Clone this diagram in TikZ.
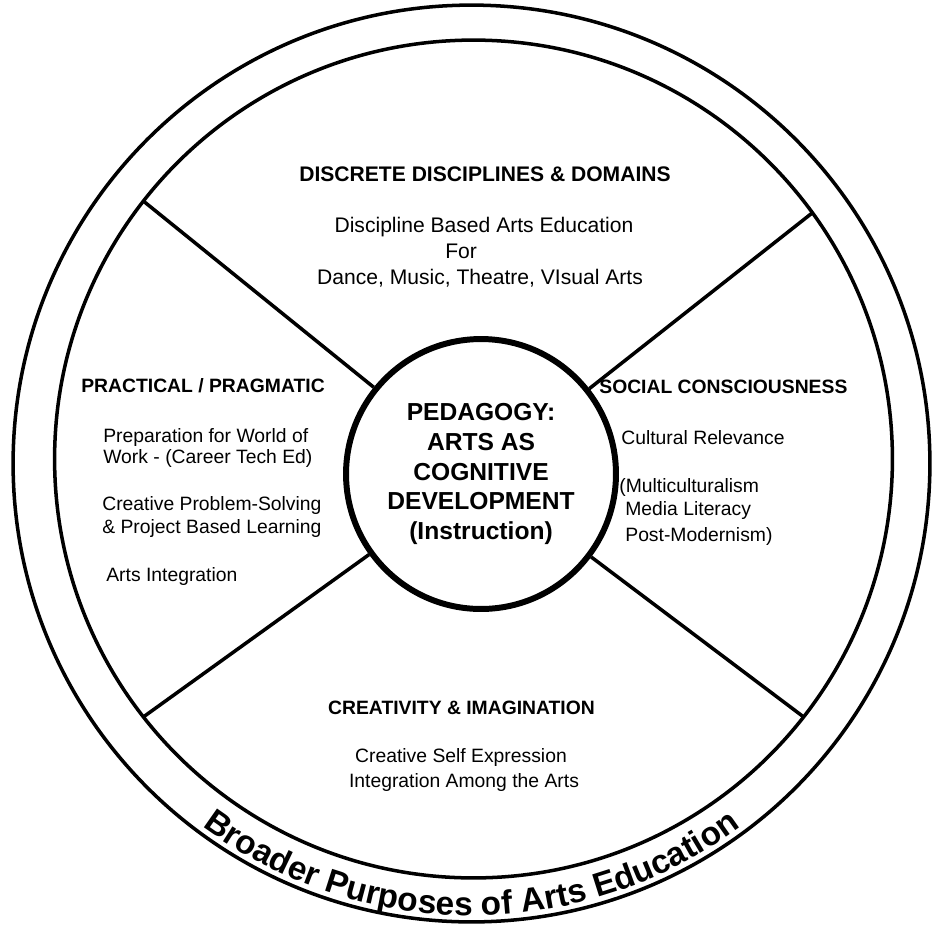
\documentclass[tikz,border=0pt]{standalone}
\usepackage{fontspec}
\setmainfont{Liberation Sans}
\usetikzlibrary{decorations.text}

\begin{document}
\begin{tikzpicture}[x=0.02cm, y=0.02cm,
  ringline/.style={draw, circle, line width=2pt, outer sep=0pt, inner sep=0pt},
  spoke/.style={line width=2pt},
  head/.style={font=\bfseries\fontsize{11}{13}\selectfont, inner sep=0pt},
  bighead/.style={font=\bfseries\fontsize{12}{14}\selectfont, inner sep=0pt},
  body/.style={font=\fontsize{11}{13}\selectfont, inner sep=0pt},
  bigbody/.style={font=\fontsize{12}{14}\selectfont, inner sep=0pt},
]
\useasboundingbox (0,0) rectangle (932,-924);

% rings
\node[ringline, minimum size=18.34cm] (outer) at (471.5,-463.5) {};
\node[ringline, minimum size=16.76cm] (ring) at (473.5,-459) {};

% centre disc
\node[draw, circle, line width=3.4pt, minimum size=5.4cm, align=center,
      font=\bfseries\fontsize{14}{17}\selectfont] (core) at (481,-474)
  {PEDAGOGY:\\ARTS AS\\COGNITIVE\\DEVELOPMENT\\(Instruction)};

% spokes
\draw[spoke] (core) -- (ring.142.6);
\draw[spoke] (core) -- (ring.36.6);
\draw[spoke] (core) -- (ring.218.5);
\draw[spoke] (core) -- (ring.322.6);

% top sector
\node[bighead, anchor=base] (htop) at (485,-181) {DISCRETE DISCIPLINES \& DOMAINS};
\node[bigbody, anchor=base] (dbae) at (484,-232) {Discipline Based Arts Education};
\node[bigbody, anchor=base west] (for) at (445,-258) {For};
\node[bigbody, anchor=base] (dance) at (480,-284) {Dance, Music, Theatre, VIsual Arts};

% left sector
\node[head, anchor=base west] (hprac) at (81,-392) {PRACTICAL / PRAGMATIC};
\node[body, anchor=base west] (prep1) at (103,-442) {Preparation for World of};
\node[body, anchor=base west] (prep2) at (103,-463) {Work - (Career Tech Ed)};
\node[body, anchor=base west] (cps) at (102,-510) {Creative Problem-Solving};
\node[body, anchor=base west] (pbl) at (102,-533) {\& Project Based Learning};
\node[body, anchor=base west] (ai) at (106,-581) {Arts Integration};

% right sector
\node[head, anchor=base west] (hsoc) at (599,-393) {SOCIAL CONSCIOUSNESS};
\node[body, anchor=base west] (cul) at (621,-444) {Cultural Relevance};
\node[body, anchor=base west] (multi) at (619,-492) {(Multiculturalism};
\node[body, anchor=base west] (media) at (625,-515) {Media Literacy};
\node[body, anchor=base west] (post) at (625,-541) {Post-Modernism)};

% bottom sector
\node[head, anchor=base] (hcre) at (461.5,-714) {CREATIVITY \& IMAGINATION};
\node[body, anchor=base] (cse) at (461,-762) {Creative Self Expression};
\node[body, anchor=base] (iat) at (464,-787) {Integration Among the Arts};

% lettering in the outer band
\path[decorate, decoration={text along path, text align=center,
    text={|\bfseries\fontsize{19}{20}\selectfont|Broader Purposes of Arts Education}}]
  (471.5,-463.5) ++(200:452) arc[start angle=200, end angle=340, radius=452];
\end{tikzpicture}
\end{document}
